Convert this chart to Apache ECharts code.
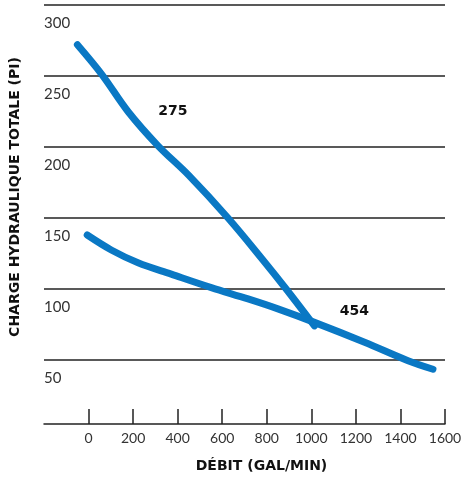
<!DOCTYPE html>
<html>
<head>
<meta charset="utf-8">
<script src="https://cdn.jsdelivr.net/npm/echarts@6/dist/echarts.min.js"></script>
<style>
  html, body { margin: 0; padding: 0; background: #fff; }
  #chart { width: 474px; height: 478px; }
</style>
</head>
<body>
<div id="chart"></div>
<script>
// courbe 275 (débit, charge)
var curve275 = [
  [-50, 272], [60, 251], [177, 225], [311, 201], [450, 180],
  [626, 150], [780, 121], [887, 100], [1014, 74]
];
// courbe 454
var curve454 = [
  [-6, 138], [102, 127.5], [222, 118.5], [371, 110.5], [551, 101], [716, 93],
  [850, 86], [1014, 76.5], [1239, 62.5], [1434, 49.5], [1546, 43.5]
];
var xTicks = [0, 200, 400, 600, 800, 1000, 1200, 1400, 1600];
var curveLabels = [
  { name: "275", coord: [378, 225] },
  { name: "454", coord: [1193, 84] }
];

var blue = "#0a78c4";
var font = "Lato";
var titleFont = "DejaVu Sans";

function curveSeries(data, label) {
  return {
    type: "line",
    data: data,
    smooth: 0.35,
    symbol: "none",
    lineStyle: { color: blue, width: 7, cap: "round", join: "round" },
    markPoint: {
      symbol: "circle",
      symbolSize: 1,
      itemStyle: { color: "rgba(0,0,0,0)" },
      label: {
        show: true, position: "inside", formatter: "{b}",
        fontFamily: titleFont, fontWeight: "bold", fontSize: 14, color: "#111"
      },
      data: [label]
    }
  };
}

var chart = echarts.init(document.getElementById("chart"), null, { renderer: "canvas" });
chart.setOption({
  animation: false,
  grid: { left: 44, right: 29, top: 5, bottom: 46 },
  xAxis: {
    type: "value",
    min: -200,
    max: 1600,
    interval: 200,
    offset: -7,
    name: "DÉBIT (GAL/MIN)",
    nameLocation: "middle",
    nameGap: 35,
    nameTextStyle: {
      fontFamily: titleFont, fontWeight: "bold", fontSize: 14, color: "#111",
      padding: [0, 0, 0, 34]
    },
    axisLine: { show: true, lineStyle: { color: "#222", width: 1.5 } },
    axisTick: {
      show: true, inside: true, length: 15, customValues: xTicks,
      lineStyle: { color: "#222", width: 1.5 }
    },
    axisLabel: {
      customValues: xTicks, margin: 7,
      formatter: function (v) { return String(v); },
      fontFamily: font, fontSize: 14, color: "#333"
    },
    splitLine: { show: false }
  },
  yAxis: {
    type: "value",
    min: 0,
    max: 300,
    interval: 50,
    name: "CHARGE HYDRAULIQUE TOTALE (PI)",
    nameLocation: "middle",
    nameGap: 22,
    nameTextStyle: {
      fontFamily: titleFont, fontWeight: "bold", fontSize: 14, color: "#111",
      padding: [0, 0, 0, 42]
    },
    axisLine: { show: false },
    axisTick: { show: false },
    axisLabel: {
      inside: true, margin: 0, showMinLabel: false,
      verticalAlign: "top", padding: [11, 0, 0, 0],
      fontFamily: font, fontSize: 15, color: "#333"
    },
    splitLine: {
      show: true, showMinLine: false,
      lineStyle: { color: "#222", width: 1.5 }
    }
  },
  series: [
    curveSeries(curve275, curveLabels[0]),
    curveSeries(curve454, curveLabels[1])
  ]
});
</script>
</body>
</html>
